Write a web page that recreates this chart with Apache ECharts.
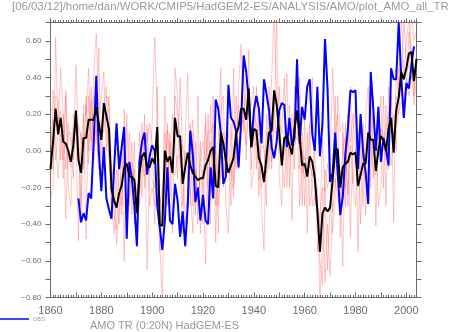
<!DOCTYPE html>
<html>
<head>
<meta charset="utf-8">
<script src="https://cdn.jsdelivr.net/npm/echarts@6/dist/echarts.min.js"></script>
<style>
html,body{margin:0;padding:0;background:#fff;}
#chart{width:459px;height:332px;}
</style>
</head>
<body>
<div id="chart"></div>
<script>
// ---- data ----
const firstYear = 1860;
const lastYear = 2004;
const obsFirstYear = 1871;

// ensemble mean (black)
const ensMean = [
 -0.10, 0.05, 0.23, 0.09, 0.18, 0.05, 0.04, 0.00,-0.06, 0.03,
  0.22,-0.05,-0.12, 0.07, 0.07, 0.17, 0.17, 0.17, 0.24, 0.15,
  0.06, 0.26, 0.19, 0.12,-0.21,-0.27,-0.31,-0.23,-0.19,-0.09,
 -0.07,-0.14,-0.14,-0.16,-0.34,-0.12,-0.03,-0.01,-0.09,-0.09,
 -0.04,-0.07, 0.13,-0.40,-0.41, 0.00,-0.06,-0.03,-0.12, 0.18,
  0.08, 0.08,-0.18,-0.09,-0.01,-0.08,-0.12,-0.14,-0.16,-0.15,
 -0.15,-0.08,-0.05, 0.00, 0.02,-0.19,-0.20, 0.10, 0.04,-0.05,
 -0.12,-0.08,-0.04, 0.09, 0.13, 0.23, 0.23, 0.17, 0.34, 0.02,
  0.12, 0.11,-0.04,-0.08,-0.17,-0.03, 0.10, 0.11, 0.33, 0.25,
  0.10,-0.08, 0.07, 0.08, 0.03,-0.02, 0.12, 0.22, 0.08,-0.08,
 -0.07,-0.14,-0.03,-0.06,-0.15,-0.33,-0.55,-0.34,-0.31,-0.33,
 -0.31,-0.16, 0.00, 0.01,-0.20,-0.09,-0.07,-0.06,-0.01,-0.02,
 -0.01,-0.19,-0.13,-0.07,-0.07, 0.10, 0.06, 0.06,-0.11, 0.00,
  0.08, 0.06, 0.00, 0.12, 0.18,-0.01, 0.22, 0.29, 0.43, 0.39,
  0.45, 0.53, 0.54, 0.38, 0.50
];

// observations (blue), 1871-2003
const obs = [
 -0.26,-0.39,-0.34,-0.38,-0.23,-0.26, 0.05, 0.41, 0.00,
 -0.22, 0.02,-0.26,-0.32,-0.37,-0.10, 0.15,-0.10, 0.02, 0.13,
 -0.48,-0.06,-0.15,-0.30,-0.52,-0.06, 0.05, 0.10,-0.13,-0.03,
  0.03, 0.00,-0.30,-0.42,-0.54,-0.38,-0.09,-0.38,-0.40,-0.18,
 -0.27,-0.47,-0.33,-0.52,-0.30, 0.11,-0.02,-0.28,-0.20,-0.38,
 -0.24,-0.38,-0.40,-0.09,-0.26, 0.28, 0.23, 0.10,-0.18,-0.14,
  0.36, 0.18, 0.16, 0.11,-0.09, 0.16, 0.52, 0.43, 0.28, 0.02,
  0.22, 0.30, 0.23, 0.04, 0.39, 0.31, 0.22, 0.02,-0.04, 0.05,
  0.22, 0.26, 0.25, 0.02, 0.18, 0.03, 0.07, 0.50, 0.04, 0.24,
  0.17, 0.35, 0.39, 0.09, 0.00, 0.35,-0.03, 0.15, 0.61, 0.34,
 -0.17,-0.12, 0.10,-0.12,-0.35,-0.25,-0.02, 0.12, 0.33, 0.32,
  0.33,-0.10, 0.20,-0.01,-0.12,-0.29, 0.43, 0.23, 0.00, 0.24,
 -0.06, 0.07, 0.01,-0.08, 0.45, 0.39, 0.39, 0.70, 0.40, 0.18,
  0.37, 0.34, 0.47, 0.57
];

// ensemble members (pink)
const member1 = [
 -0.28,-0.20, 0.62, 0.10, 0.45, 0.20,-0.10, 0.15, 0.05,-0.15,
  0.47, 0.10,-0.30, 0.20,-0.48, 0.30, 0.05, 0.40, 0.64, 0.20,
  0.30, 0.43, 0.00, 0.30,-0.10,-0.35,-0.43, 0.00,-0.30, 0.23,
 -0.30, 0.10,-0.35, 0.05,-0.50, 0.10,-0.25, 0.20,-0.65,-0.10,
  0.15, 0.62, 0.20,-0.50,-0.82, 0.10,-0.30, 0.10,-0.45, 0.45,
  0.30,-0.10,-0.45, 0.10, 0.42,-0.30, 0.10,-0.35, 0.30,-0.45,
 -0.10,-0.62, 0.20,-0.40, 0.30,-0.50, 0.05, 0.45,-0.20, 0.10,
  0.10,-0.30, 0.45,-0.10, 0.35, 0.58, 0.10, 0.40, 0.20, 0.25,
  0.35,-0.10, 0.20,-0.30,-0.54, 0.20,-0.10, 0.40, 0.75, 0.30,
  0.15, 0.10, 0.40,-0.20, 0.25,-0.38, 0.35, 0.15, 0.30,-0.30,
  0.20,-0.45, 0.10, 0.40,-0.30,-0.20,-0.82,-0.50,-0.10,-0.20,
 -0.10, 0.45, 0.10, 0.20,-0.47, 0.10,-0.30, 0.20,-0.47, 0.10,
  0.25,-0.55, 0.10,-0.30, 0.20, 0.35,-0.20, 0.30,-0.41, 0.10,
  0.30,-0.20, 0.25,-0.10, 0.40,-0.39, 0.45, 0.30, 0.75, 0.40,
  0.60, 0.72, 0.45, 0.30, 0.55
];
const member2 = [
 -0.20, 0.33, 0.05,-0.15, 0.10,-0.05, 0.30,-0.20,-0.30, 0.20,
  0.10,-0.49, 0.10,-0.10, 0.30, 0.00, 0.35,-0.05, 0.10, 0.56,
 -0.20, 0.25, 0.35,-0.05,-0.35,-0.10,-0.20,-0.40, 0.05,-0.60,
  0.20,-0.30, 0.05,-0.40,-0.20,-0.30, 0.15,-0.20, 0.10,-0.30,
 -0.20,-0.30, 0.35,-0.30,-0.20,-0.20, 0.15,-0.25, 0.20, 0.10,
 -0.15, 0.40, 0.00,-0.40,-0.20, 0.15,-0.30, 0.05,-0.40, 0.05,
 -0.40, 0.20,-0.30, 0.25,-0.20, 0.00,-0.45, 0.20, 0.30,-0.30,
 -0.45, 0.15,-0.20, 0.30,-0.10, 0.10, 0.45,-0.05, 0.55,-0.20,
 -0.10, 0.35,-0.25, 0.15, 0.00,-0.30, 0.35,-0.10, 0.20, 0.72,
 -0.15,-0.30, 0.10, 0.42,-0.20, 0.20,-0.10, 0.45,-0.10, 0.10,
 -0.30, 0.10,-0.30,-0.20, 0.05,-0.55,-0.35,-0.20,-0.72,-0.40,
 -0.68,-0.30, 0.30,-0.20,-0.10,-0.63, 0.15,-0.30, 0.35,-0.20,
 -0.30, 0.10,-0.40, 0.15,-0.35, 0.10, 0.30,-0.15, 0.10,-0.30,
 -0.20, 0.30,-0.30, 0.35, 0.10, 0.20, 0.00, 0.45, 0.30, 0.72,
  0.50, 0.45, 0.75, 0.60, 0.65
];
const member3 = [
  0.05,-0.10, 0.30, 0.28,-0.05, 0.20,-0.37, 0.10, 0.10,-0.05,
  0.20, 0.05,-0.35, 0.25, 0.20, 0.45, 0.00, 0.30, 0.10,-0.10,
  0.15, 0.10, 0.30, 0.25,-0.30,-0.45,-0.10,-0.20,-0.35, 0.05,
 -0.10,-0.25,-0.20,-0.10,-0.45,-0.05, 0.05, 0.10, 0.05, 0.15,
  0.05,-0.40,-0.10,-0.55,-0.30, 0.30,-0.20, 0.05,-0.10, 0.30,
  0.20, 0.05,-0.30, 0.00,-0.10,-0.20,-0.45,-0.10,-0.30,-0.05,
  0.05,-0.05, 0.10, 0.10, 0.15,-0.30,-0.10,-0.15, 0.10, 0.05,
 -0.05,-0.10,-0.25, 0.05, 0.25, 0.10, 0.20, 0.30, 0.35,-0.10,
  0.20, 0.15, 0.05,-0.20,-0.15, 0.10, 0.05, 0.20, 0.10, 0.10,
  0.35,-0.05,-0.20, 0.05, 0.10, 0.05, 0.20, 0.20,-0.30, 0.00,
 -0.15,-0.10, 0.15,-0.30,-0.25,-0.30,-0.60,-0.73,-0.20,-0.65,
 -0.30,-0.45,-0.25, 0.30, 0.10, 0.15,-0.20, 0.10, 0.05, 0.20,
  0.00,-0.20,-0.10, 0.00,-0.10,-0.15, 0.10, 0.20, 0.00, 0.15,
  0.10, 0.05, 0.10, 0.20, 0.30, 0.05, 0.30, 0.20, 0.40, 0.20,
  0.30, 0.65, 0.55, 0.25, 0.50
];
const member4 = [
  0.03, 0.17,-0.05, 0.13, 0.22,-0.15, 0.33,-0.05,-0.09, 0.12,
  0.11, 0.14, 0.07,-0.07, 0.26,-0.07, 0.28, 0.03, 0.12,-0.06,
 -0.01, 0.26, 0.11,-0.02,-0.09,-0.18,-0.51,-0.32,-0.16,-0.04,
 -0.08,-0.11,-0.06,-0.19,-0.21,-0.23,-0.07,-0.14, 0.14,-0.11,
 -0.16,-0.20, 0.07,-0.25,-0.32,-0.20, 0.11,-0.02,-0.13,-0.13,
 -0.03,-0.03, 0.03,-0.06,-0.16, 0.03, 0.17,-0.16,-0.24,-0.15,
 -0.15, 0.15,-0.20, 0.05,-0.17, 0.04,-0.30,-0.10,-0.04,-0.05,
 -0.08,-0.07,-0.16, 0.11, 0.02, 0.14, 0.17, 0.03, 0.26, 0.13,
  0.03, 0.04,-0.16, 0.03, 0.01,-0.12, 0.10,-0.06, 0.27, 0.05,
  0.05,-0.07,-0.02, 0.05,-0.03, 0.05, 0.03, 0.08, 0.40,-0.12,
 -0.03,-0.11,-0.07,-0.14,-0.10,-0.27,-0.43, 0.07,-0.22,-0.07,
 -0.16,-0.34,-0.15,-0.26,-0.33, 0.02, 0.07,-0.24, 0.03,-0.18,
  0.01,-0.11,-0.12,-0.13,-0.03, 0.10, 0.04,-0.11,-0.13, 0.05,
  0.12, 0.09,-0.05, 0.03,-0.08, 0.10, 0.13, 0.21, 0.27, 0.24,
  0.40, 0.30, 0.41, 0.37, 0.30
];
const members = [member1, member2, member3, member4];

// axis ticks
const yMin = -0.8, yMax = 0.7, yStep = 0.1;
const xLabelStep = 20, xTickStep = 10;

const topTitle = '[06/03/12]/home/dan/WORK/CMIP5/HadGEM2-ES/ANALYSIS/AMO/plot_AMO_all_TR';
const bottomTitle = 'AMO TR (0:20N) HadGEM-ES';
const obsName = 'OBS';

// ---- build ----
function pairs(start, vals) {
  return vals.map((v, i) => [start + i, v]);
}
const FONT = 'Liberation Sans, Arial, sans-serif';
const AXC = '#6a6a6a';

const series = [];
members.forEach((m, k) => {
  series.push({
    name: 'member' + (k + 1), type: 'line', data: pairs(firstYear, m),
    showSymbol: false, symbol: 'none', clip: true, silent: true, z: 1,
    lineStyle: {color: 'rgba(255,80,80,0.36)', width: 0.9}
  });
});
series.push({
  name: obsName, type: 'line', data: pairs(obsFirstYear, obs),
  showSymbol: false, symbol: 'none', clip: true, z: 3,
  lineStyle: {color: '#0000ff', width: 2}, itemStyle: {color: '#0000ff'}
});
series.push({
  name: 'mean', type: 'line', data: pairs(firstYear, ensMean),
  showSymbol: false, symbol: 'none', clip: true, z: 4,
  lineStyle: {color: '#000000', width: 2}
});

const xBase = {
  type: 'value', min: firstYear, max: lastYear, interval: xTickStep,
  axisLine: {show: true, onZero: false, lineStyle: {color: AXC, width: 1}},
  splitLine: {show: false},
  minorTick: {show: true, splitNumber: 10, length: 2.5, lineStyle: {color: AXC, width: 1}},
  minorSplitLine: {show: false}
};
const yBase = {
  type: 'value', min: yMin, max: yMax, interval: yStep,
  axisLine: {show: true, onZero: false, lineStyle: {color: AXC, width: 1}},
  axisTick: {show: true, inside: false, length: 5, lineStyle: {color: AXC, width: 1}},
  splitLine: {show: false}
};

const option = {
  animation: false,
  backgroundColor: '#ffffff',
  title: [
    {text: topTitle, left: 12, top: 1, padding: 0,
     textStyle: {fontFamily: FONT, fontSize: 11.4, fontWeight: 'normal', color: '#9a9a9a'}},
    {text: bottomTitle, left: 90, top: 320, padding: 0,
     textStyle: {fontFamily: FONT, fontSize: 11, fontWeight: 'normal', color: '#9a9a9a'}}
  ],
  legend: {
    data: [{name: obsName, icon: 'rect'}],
    left: 0, top: 316, padding: 0, itemGap: 5,
    itemWidth: 29, itemHeight: 1.5,
    textStyle: {fontFamily: FONT, fontSize: 5.5, color: '#9a9a9a', padding: [0, 0, 0, -1]}
  },
  grid: {left: 50.5, top: 22.5, width: 366, height: 275, containLabel: false},
  xAxis: [
    Object.assign({}, xBase, {
      position: 'bottom',
      axisTick: {show: true, inside: true, length: 5, lineStyle: {color: AXC, width: 1}},
      axisLabel: {
        show: true, margin: 8, showMaxLabel: false,
        fontFamily: FONT, fontSize: 11, color: '#6e6e6e',
        formatter: v => ((v - firstYear) % xLabelStep === 0 && v <= 2000) ? String(v) : ''
      }
    }),
    Object.assign({}, xBase, {
      position: 'top',
      axisTick: {show: true, inside: false, length: 4, lineStyle: {color: AXC, width: 1}},
      axisLabel: {show: false}
    })
  ],
  yAxis: [
    Object.assign({}, yBase, {
      position: 'left',
      axisLabel: {
        show: true, margin: 9, fontFamily: FONT, fontSize: 8, color: '#6e6e6e',
        formatter: v => {
          const k = Math.round(v * 10);
          if (k % 2 !== 0) return '';
          return (k < 0 ? '\u2212' : '') + Math.abs(k / 10).toFixed(2);
        }
      }
    }),
    Object.assign({}, yBase, {position: 'right', axisLabel: {show: false}})
  ],
  series: series
};

const chart = echarts.init(document.getElementById('chart'), null, {renderer: 'canvas'});
chart.setOption(option);
</script>
</body>
</html>
